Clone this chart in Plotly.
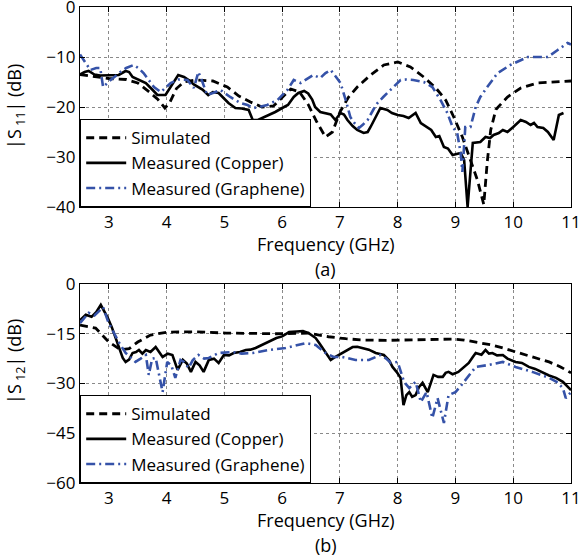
import plotly.graph_objects as go

# ---------------- (a) |S11| ----------------
s11_sim_f = [2.5, 2.7, 3.0, 3.3, 3.5, 3.7, 3.85, 3.97, 4.05, 4.17, 4.3, 4.5, 4.8, 5.05, 5.25, 5.45,
             5.65, 5.85, 6.0, 6.15, 6.3, 6.45, 6.6, 6.75, 6.87, 7.0, 7.15, 7.3, 7.53, 7.76, 8.0,
             8.22, 8.45, 8.66, 8.83, 8.97, 9.12, 9.26, 9.38, 9.49, 9.55, 9.61, 9.7, 9.9, 10.13,
             10.42, 10.7, 11.0]
s11_sim_db = [-13.5, -13.8, -14.3, -14.5, -15.2, -17, -18.5, -20.2, -19.2, -16.3, -15, -14.6, -14.8,
              -16, -17.8, -19, -20, -19.8, -18.2, -16.4, -17, -19.5, -23, -26, -25, -21, -18, -16,
              -13.6, -11.6, -11, -12, -14, -16.2, -18.6, -22, -26, -30.6, -34.6, -39.5, -31, -24.6,
              -20.5, -18, -16.2, -15.2, -15, -14.8]

s11_cu_f = [2.5, 2.58, 2.65, 2.75, 2.85, 3.0, 3.17, 3.29, 3.35, 3.41, 3.52, 3.64, 3.75, 3.84, 3.98,
            4.1, 4.2, 4.3, 4.38, 4.47, 4.55, 4.62, 4.72, 4.8, 4.9, 5.0, 5.07, 5.19, 5.3, 5.42, 5.49,
            5.58, 5.66, 5.77, 5.88, 6.0, 6.1, 6.2, 6.28, 6.38, 6.45, 6.52, 6.57, 6.66, 6.75, 6.84,
            6.92, 7.01, 7.07, 7.13, 7.22, 7.3, 7.41, 7.48, 7.53, 7.6, 7.7, 7.82, 7.9, 8.0, 8.1,
            8.19, 8.31, 8.4, 8.51, 8.58, 8.66, 8.72, 8.8, 8.87, 8.95, 9.02, 9.09, 9.15, 9.21, 9.3,
            9.43, 9.52, 9.6, 9.66, 9.75, 9.82, 9.9, 10.0, 10.13, 10.22, 10.3, 10.36, 10.42, 10.52,
            10.6, 10.7, 10.79, 10.87]
s11_cu_db = [-13.5, -13.0, -12.8, -13.5, -13.7, -13.7, -13.6, -12.8, -13.0, -14, -14.5, -15.2, -16.5,
             -17.6, -17.6, -15.5, -13.6, -14, -14.6, -15.5, -16, -16.5, -17.6, -17, -17.2, -18.5,
             -19.2, -20.2, -20.3, -20.6, -22.6, -22.6, -22.2, -21.5, -21, -20.2, -19.6, -18, -17.2,
             -16.8, -17.3, -18.5, -20, -21, -21.2, -21.5, -22.6, -21.2, -21.5, -22.6, -23.8, -24.6,
             -25.2, -25, -24, -22.5, -20.2, -20.6, -21.2, -21.6, -21.8, -22.2, -21.2, -23.2, -24,
             -24.6, -26, -25.8, -28, -28.3, -29.6, -29.4, -29.2, -30.6, -40, -27.2, -27, -26,
             -26.2, -25.6, -25.2, -24.6, -25, -24, -22.6, -23, -23.6, -23.2, -24, -24.2, -25,
             -26.6, -21.6, -21.2]

s11_gr_f = [2.5, 2.58, 2.68, 2.78, 2.85, 2.9, 3.03, 3.2, 3.3, 3.43, 3.52, 3.6, 3.7, 3.78, 3.9, 4.07,
            4.2, 4.36, 4.47, 4.55, 4.62, 4.7, 4.8, 4.93, 5.1, 5.28, 5.4, 5.5, 5.6, 5.74, 5.92, 6.09,
            6.2, 6.32, 6.54, 6.66, 6.75, 6.84, 6.92, 7.01, 7.1, 7.18, 7.25, 7.33, 7.4, 7.48, 7.58,
            7.65, 7.75, 7.82, 7.91, 8.05, 8.15, 8.27, 8.45, 8.6, 8.74, 8.86, 8.95, 9.03, 9.09, 9.12,
            9.17, 9.26, 9.35, 9.43, 9.55, 9.73, 9.95, 10.1, 10.25, 10.45, 10.6, 10.77, 10.94, 11.0]
s11_gr_db = [-9.5, -11, -12.6, -12.2, -12.2, -16, -14.6, -13, -12.2, -11.6, -12.3, -13.2, -14.8, -16,
             -17, -15.2, -14.5, -14.6, -16.2, -13, -15, -17.6, -17.2, -16.6, -18, -19.2, -19.6,
             -20.2, -20, -19.6, -18.6, -16.6, -14.6, -15.2, -13.6, -14.2, -13.2, -12.6, -13.8,
             -15.2, -18.6, -22, -23.2, -24.2, -23.5, -22.6, -20.5, -19.2, -18, -17.2, -16, -14.6,
             -14.5, -14.6, -15, -16, -18.6, -21.2, -24, -25.2, -29.2, -33, -24, -24, -20, -18, -16,
             -13.2, -11.6, -10.8, -10, -10, -10, -8.6, -7.2, -7.5]

# ---------------- (b) |S12| ----------------
s12_sim_f = [2.5, 2.77, 3.0, 3.2, 3.35, 3.5, 3.72, 4.02, 4.5, 5.03, 5.5, 5.9, 6.46, 6.8, 7.1, 7.4,
             7.8, 8.2, 8.6, 8.95, 9.15, 9.35, 9.6, 9.82, 10.02, 10.22, 10.42, 10.62, 10.82, 11.0]
s12_sim_db = [-12.4, -13.3, -17.5, -19.8, -19.5, -17.5, -15.4, -14.5, -14.4, -14.8, -14.9, -15,
              -14.8, -15.9, -16.5, -16.9, -17, -16.9, -16.7, -16.6, -16.9, -17.5, -18.3, -19.3,
              -20.3, -21.4, -22.4, -23.5, -25, -26.8]

s12_cu_f = [2.5, 2.6, 2.7, 2.78, 2.86, 2.98, 3.05, 3.12, 3.18, 3.24, 3.29, 3.35, 3.41, 3.47, 3.52,
            3.58, 3.64, 3.72, 3.81, 3.87, 3.93, 4.02, 4.1, 4.19, 4.28, 4.35, 4.42, 4.5, 4.57, 4.64,
            4.73, 4.82, 4.9, 4.99, 5.08, 5.16, 5.27, 5.37, 5.45, 5.54, 5.63, 5.72, 5.8, 5.9, 6.0,
            6.12, 6.25, 6.36, 6.46, 6.58, 6.65, 6.72, 6.84, 6.9, 6.98, 7.1, 7.22, 7.3, 7.4, 7.5,
            7.62, 7.76, 7.85, 7.91, 7.98, 8.05, 8.1, 8.15, 8.2, 8.25, 8.31, 8.37, 8.43, 8.52, 8.62,
            8.7, 8.78, 8.83, 8.88, 8.95, 9.05, 9.15, 9.23, 9.3, 9.35, 9.45, 9.52, 9.58, 9.64, 9.72,
            9.82, 9.9, 10.04, 10.15, 10.27, 10.38, 10.51, 10.62, 10.74, 10.86, 11.0]
s12_cu_db = [-10.9, -9.3, -9.9, -8.5, -6.3, -10.2, -13, -16.3, -19.5, -22.3, -23.5, -22.8, -20.8,
             -20.5, -19.9, -21, -19.9, -20.5, -19, -20.5, -22, -21, -21.4, -25.9, -22.9, -24, -26.5,
             -23.5, -24.5, -26.5, -22.9, -22.5, -23.8, -21.4, -21.5, -20.8, -20.5, -19.9, -19.8,
             -19.3, -18.5, -17.8, -17.2, -16.3, -15.8, -14.5, -14.3, -14.2, -14.8, -16.3, -18,
             -19.9, -22.9, -22.2, -21.4, -20, -19, -18.9, -19.3, -19.8, -20.8, -21.4, -23, -25,
             -26.5, -28.3, -36.5, -33.5, -32.6, -34, -33.5, -31, -29.8, -32.6, -27.4, -28, -28,
             -26.8, -26.5, -27.2, -26.5, -25, -23.8, -22, -20.8, -21.3, -19.9, -21, -20.8, -21.5,
             -21.4, -22.5, -23.5, -23.8, -25, -25.6, -26.8, -27.6, -28.3, -29.5, -32]

s12_gr_f = [2.5, 2.65, 2.75, 2.82, 2.9, 2.99, 3.08, 3.17, 3.29, 3.46, 3.55, 3.64, 3.69, 3.75, 3.81,
            3.87, 3.93, 4.01, 4.08, 4.15, 4.24, 4.3, 4.38, 4.45, 4.55, 4.65, 4.73, 4.9, 5.14, 5.3,
            5.49, 5.77, 6.06, 6.25, 6.41, 6.58, 6.75, 6.89, 7.04, 7.27, 7.5, 7.7, 7.8, 7.88, 8.0,
            8.11, 8.2, 8.31, 8.4, 8.5, 8.6, 8.69, 8.8, 8.88, 9.0, 9.08, 9.18, 9.35, 9.58, 9.82,
            10.04, 10.33, 10.62, 10.75, 10.86, 10.91, 11.0]
s12_gr_db = [-11.8, -8.7, -9.5, -8.4, -7, -11.5, -14.5, -17.5, -20.8, -23.5, -22.5, -21.4, -27.4,
             -22.5, -22.3, -27, -32.6, -23.5, -24.5, -28.3, -22.9, -23.5, -25.3, -23, -21.4, -22.5,
             -22.3, -20.8, -20.5, -21, -20.8, -19.9, -19.3, -18.5, -17.8, -18.4, -20.8, -22, -22,
             -22.9, -22.9, -21.4, -22.5, -23.8, -23.5, -29.5, -31.4, -29.5, -35.6, -32.6, -40.4,
             -34.4, -41.9, -33.5, -32.6, -31, -28.9, -25, -24.4, -23.5, -25, -26.5, -28.3, -29.5,
             -31.4, -34.4, -32.6]

freq_ticks = [3, 4, 5, 6, 7, 8, 9, 10, 11]
s11_ticks = [0, -10, -20, -30, -40]
s12_ticks = [0, -15, -30, -45, -60]
names = ["Simulated", "Measured (Copper)", "Measured (Graphene)"]

FONT = "Open Sans"
FS_TICK = 17
FS = 18
FS_LEG = 17
BLUE = "#3552A8"

styles = [
    dict(color="black", width=2.8, dash="8px,5px"),
    dict(color="black", width=2.6),
    dict(color=BLUE, width=2.6, dash="9px,4px,2px,4px"),
]

fig = go.Figure()

top = [(s11_sim_f, s11_sim_db), (s11_cu_f, s11_cu_db), (s11_gr_f, s11_gr_db)]
bot = [(s12_sim_f, s12_sim_db), (s12_cu_f, s12_cu_db), (s12_gr_f, s12_gr_db)]

for i, (fx, fy) in enumerate(top):
    fig.add_trace(go.Scatter(x=fx, y=fy, mode="lines", name=names[i], line=styles[i],
                             xaxis="x", yaxis="y", legend="legend"))
for i, (fx, fy) in enumerate(bot):
    fig.add_trace(go.Scatter(x=fx, y=fy, mode="lines", name=names[i], line=styles[i],
                             xaxis="x2", yaxis="y2", legend="legend2"))

L, R, T, B = 80, 8, 7, 74
W, H = 579, 557
ph = H - T - B
top_dom = [(483 - 207) / ph, 1.0]
bot_dom = [0.0, (483 - 284) / ph]

axis_common = dict(
    showline=True, linecolor="black", linewidth=1.2, mirror="ticks",
    ticks="inside", ticklen=5, tickcolor="black", automargin=False,
    ticklabeloverflow="allow",
    showgrid=True, gridcolor="#8a8a8a", griddash="dot", gridwidth=1,
    zeroline=False, tickfont=dict(family=FONT, size=FS_TICK, color="black"),
)

leg_common = dict(xanchor="left", yanchor="bottom", bordercolor="black", borderwidth=1.2,
                  bgcolor="white", font=dict(family=FONT, size=FS_LEG), itemwidth=40,
                  tracegroupgap=0)

fig.update_layout(
    width=W, height=H,
    margin=dict(l=L, r=R, t=T, b=B, autoexpand=False),
    paper_bgcolor="white", plot_bgcolor="white",
    font=dict(family=FONT, size=FS, color="black"),
    xaxis=dict(domain=[0, 1], range=[2.5, 11], tickvals=freq_ticks, anchor="y",
               ticklabelstandoff=-1, **axis_common),
    yaxis=dict(domain=top_dom, range=[-40, 0], tickvals=s11_ticks, anchor="x", **axis_common),
    xaxis2=dict(domain=[0, 1], range=[2.5, 11], tickvals=freq_ticks, anchor="y2",
                ticklabelstandoff=-1, **axis_common),
    yaxis2=dict(domain=bot_dom, range=[-60, 0], tickvals=s12_ticks, anchor="x2", **axis_common),
    legend=dict(x=0, y=top_dom[0], **leg_common),
    legend2=dict(x=0, y=0, **leg_common),
    showlegend=True,
)

def py(px):
    return (H - B - px) / ph

ann = [
    dict(text="Frequency (GHz)", x=0.5, y=py(244), xanchor="center", yanchor="middle"),
    dict(text="(a)", x=0.5, y=py(269), xanchor="center", yanchor="middle"),
    dict(text="Frequency (GHz)", x=0.5, y=py(520), xanchor="center", yanchor="middle"),
    dict(text="(b)", x=0.5, y=py(545), xanchor="center", yanchor="middle"),
    dict(text="|S<sub> 11</sub>| (dB)", x=(15 - L) / (W - L - R), y=py(107), textangle=-90,
         xanchor="center", yanchor="middle"),
    dict(text="|S<sub> 12</sub>| (dB)", x=(15 - L) / (W - L - R), y=py(362), textangle=-90,
         xanchor="center", yanchor="middle"),
]
for a in ann:
    fig.add_annotation(xref="paper", yref="paper", showarrow=False,
                       font=dict(family=FONT, size=FS, color="black"), **a)

fig.write_html("out.html", config={"displayModeBar": False},
               post_script="document.body.style.margin='0px';")
